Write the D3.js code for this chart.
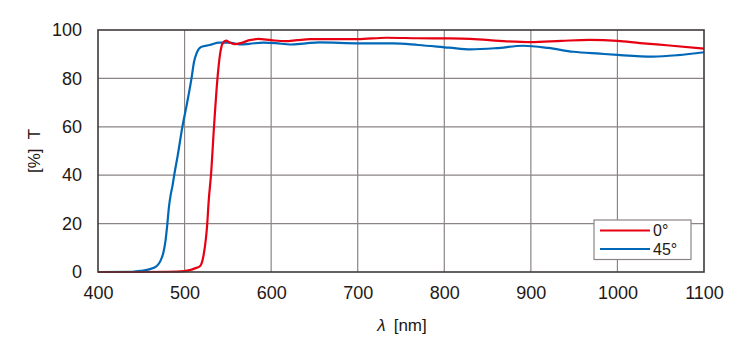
<!DOCTYPE html>
<html>
<head>
<meta charset="utf-8">
<script src="https://cdn.jsdelivr.net/npm/d3@7"></script>
<style>
    body { margin: 0; background: #fff; }
    svg { display: block; font-family: "Liberation Sans", Arial, sans-serif; }
</style>
</head>
<body>
<div id="chart"></div>
<script>
// wavelength [nm] / transmittance [%]
const wl0 = [400, 450, 480, 500, 506, 512, 518, 522, 526, 528, 530.5, 534, 538, 541, 544, 548, 552, 558, 565, 575, 585, 600, 616, 630, 645, 670, 700, 733, 770, 806, 830, 872, 900, 935, 968, 1000, 1026, 1060, 1100];
const t0 = [0, 0, 0.1, 0.4, 0.8, 1.5, 2.5, 7, 19, 30, 40, 60, 80, 90, 94.5, 95.6, 94.8, 94.2, 94.6, 95.8, 96.3, 95.8, 95.4, 95.8, 96.2, 96.2, 96.2, 96.8, 96.6, 96.5, 96.3, 95.3, 95, 95.5, 95.9, 95.5, 94.6, 93.6, 92.3];

const wl45 = [400, 440, 450, 460, 468, 472, 475.5, 478, 480, 482, 484, 486, 488, 492, 497.5, 503, 508, 511, 514, 519, 529, 540, 552, 564, 575, 591, 605, 622, 640, 656, 702, 741, 770, 806, 830, 860, 891, 920, 949, 980, 1000, 1041, 1070, 1100];
const t45 = [0, 0.1, 0.5, 1.2, 2.5, 4.5, 8, 13, 19.5, 27, 32, 35.5, 40, 48, 60, 70, 80, 87, 90.5, 93, 93.8, 94.8, 94.8, 94, 94.3, 94.8, 94.6, 94, 94.5, 94.9, 94.5, 94.5, 93.8, 92.7, 92, 92.5, 93.5, 92.6, 91, 90.2, 89.7, 89, 89.6, 90.8];

const xTicks = [400, 500, 600, 700, 800, 900, 1000, 1100];
const yTicks = [0, 20, 40, 60, 80, 100];
const seriesNames = ['0°', '45°'];

const W = 750, H = 350;
const M = { left: 98, right: 46, top: 30, bottom: 78 };
const RED = '#e60012', BLUE = '#0068b7';
const INK = '#231815';

const svg = d3.select('#chart').append('svg')
    .attr('width', W)
    .attr('height', H);

const x = d3.scaleLinear().domain([400, 1100]).range([M.left, W - M.right]);
const y = d3.scaleLinear().domain([0, 100]).range([H - M.bottom, M.top]);

// grid
svg.append('g')
    .attr('stroke', '#8a8584')
    .attr('stroke-width', 1.2)
    .selectAll('line.v')
    .data(xTicks.slice(1, -1))
    .join('line')
    .attr('x1', d => x(d)).attr('x2', d => x(d))
    .attr('y1', y(0)).attr('y2', y(100));

svg.append('g')
    .attr('stroke', '#8a8584')
    .attr('stroke-width', 1.2)
    .selectAll('line.h')
    .data(yTicks.slice(1, -1))
    .join('line')
    .attr('x1', x(400)).attr('x2', x(1100))
    .attr('y1', d => y(d)).attr('y2', d => y(d));

// curves
const line = d3.line()
    .x(d => x(d[0]))
    .y(d => y(d[1]))
    .curve(d3.curveMonotoneX);

const s0 = wl0.map((w, i) => [w, t0[i]]);
const s45 = wl45.map((w, i) => [w, t45[i]]);

svg.append('path')
    .datum(s45)
    .attr('fill', 'none')
    .attr('stroke', BLUE)
    .attr('stroke-width', 2.2)
    .attr('d', line);

svg.append('path')
    .datum(s0)
    .attr('fill', 'none')
    .attr('stroke', RED)
    .attr('stroke-width', 2.2)
    .attr('d', line);

// frame
svg.append('rect')
    .attr('x', x(400)).attr('y', y(100))
    .attr('width', x(1100) - x(400))
    .attr('height', y(0) - y(100))
    .attr('fill', 'none')
    .attr('stroke', '#3e3a39')
    .attr('stroke-width', 1.6);

// axes (labels only)
const xAxis = svg.append('g')
    .attr('transform', `translate(0,${y(0)})`)
    .call(d3.axisBottom(x).tickValues(xTicks).tickFormat(d3.format('d')).tickSize(0).tickPadding(14));
const yAxis = svg.append('g')
    .attr('transform', `translate(${x(400)},0)`)
    .call(d3.axisLeft(y).tickValues(yTicks).tickFormat(d3.format('d')).tickSize(0).tickPadding(16));
[xAxis, yAxis].forEach(g => {
    g.select('.domain').remove();
    g.selectAll('text')
        .attr('font-family', '"Liberation Sans", Arial, sans-serif')
        .attr('font-size', 18)
        .attr('fill', INK);
});

// axis titles
const xt = svg.append('text')
    .attr('x', 402).attr('y', 331)
    .attr('text-anchor', 'middle')
    .attr('font-size', 17)
    .attr('fill', INK);
xt.append('tspan').attr('font-style', 'italic').text('λ');
xt.append('tspan').attr('dx', 8).text('[nm]');

svg.append('text')
    .attr('transform', `translate(40,${(y(0) + y(100)) / 2}) rotate(-90)`)
    .attr('text-anchor', 'middle')
    .attr('font-size', 17)
    .attr('fill', INK)
    .text('[%]  T')
    .style('white-space', 'pre');

// legend
const lg = svg.append('g').attr('transform', 'translate(594,220)');
lg.append('rect')
    .attr('width', 97).attr('height', 39.5)
    .attr('fill', '#fff')
    .attr('stroke', '#8a8584')
    .attr('stroke-width', 1.2);
[RED, BLUE].forEach((c, i) => {
    const ly = 10.5 + i * 18.5;
    lg.append('line')
        .attr('x1', 6).attr('x2', 56)
        .attr('y1', ly).attr('y2', ly)
        .attr('stroke', c).attr('stroke-width', 2.2);
    lg.append('text')
        .attr('x', 59).attr('y', ly)
        .attr('dy', '0.36em')
        .attr('font-size', 16)
        .attr('fill', INK)
        .text(seriesNames[i]);
});
</script>
</body>
</html>
